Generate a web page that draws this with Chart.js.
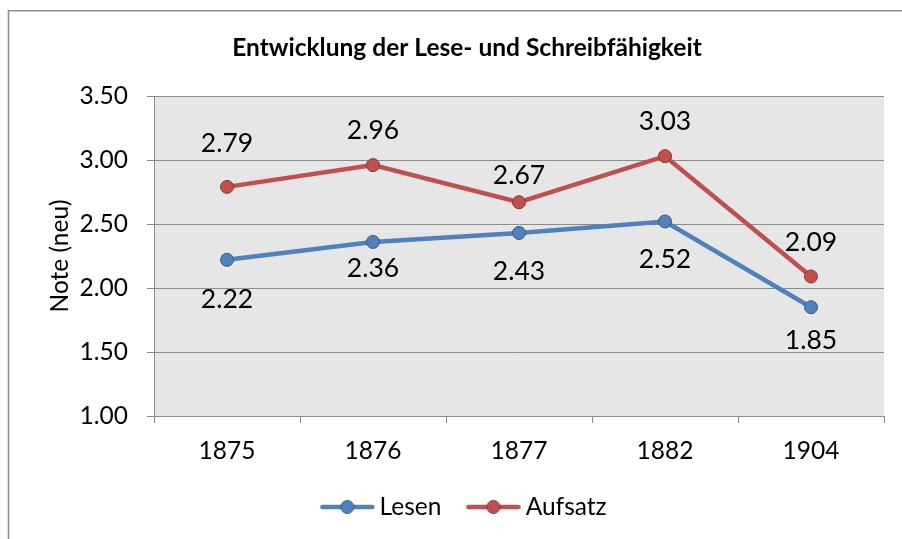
<!DOCTYPE html>
<html><head><meta charset="utf-8">
<script src="https://cdn.jsdelivr.net/npm/chart.js@4"></script>
<style>html,body{margin:0;padding:0;background:#fff}</style>
</head><body>
<canvas id="c" width="902" height="539" style="display:block;width:902px;height:539px"></canvas>
<script>
const categories = ['1875', '1876', '1877', '1882', '1904'];
const lesen = [2.22, 2.36, 2.43, 2.52, 1.85];
const aufsatz = [2.79, 2.96, 2.67, 3.03, 2.09];
const yMin = 1.0, yMax = 3.5, yStep = 0.5;
const chartTitle = 'Entwicklung der Lese- und Schreibfähigkeit';
const yTitle = 'Note (neu)';
const seriesNames = ['Lesen', 'Aufsatz'];
// label offsets (px, relative to point) as placed in the reference
const lesenLabelDy = [40, 27, 38.6, 37.8, 33.7];
const aufsatzLabelDy = [-43, -34.5, -27, -34.5, -34];

const BLUE = '#4f81bd', BLUE_D = '#385d8a';
const RED = '#c0504d', RED_D = '#8c3836';
const GRID = '#8c8c8c';
const FONT = 'Lato';
const FS = 24.5;

function legendIcon(color, border) {
  const c = document.createElement('canvas');
  c.width = 56; c.height = 16;
  const g = c.getContext('2d');
  g.strokeStyle = color; g.lineWidth = 4.5; g.lineCap = 'round';
  g.beginPath(); g.moveTo(3, 8); g.lineTo(53, 8); g.stroke();
  g.beginPath(); g.arc(28, 8, 6.5, 0, Math.PI * 2);
  g.fillStyle = color; g.fill();
  g.lineWidth = 1; g.strokeStyle = border; g.stroke();
  return c;
}
const icons = [legendIcon(BLUE, BLUE_D), legendIcon(RED, RED_D)];

const framePlugin = {
  id: 'frame',
  beforeDraw(chart) {
    const ctx = chart.ctx, a = chart.chartArea;
    ctx.save();
    ctx.fillStyle = '#fff';
    ctx.fillRect(0, 0, chart.width, chart.height);
    ctx.strokeStyle = '#8e8e8e';
    ctx.lineWidth = 1.6;
    ctx.beginPath();
    ctx.moveTo(8.5, chart.height + 5);
    ctx.lineTo(8.5, 10.8);
    ctx.lineTo(chart.width + 5, 10.8);
    ctx.stroke();
    ctx.fillStyle = '#e6e6e6';
    ctx.fillRect(a.left, a.top, a.right - a.left, a.bottom - a.top);
    ctx.restore();
  }
};

const labelPlugin = {
  id: 'pointLabels',
  afterDatasetsDraw(chart) {
    const ctx = chart.ctx;
    const offs = [lesenLabelDy, aufsatzLabelDy];
    ctx.save();
    ctx.font = '26.5px ' + FONT;
    ctx.fillStyle = '#000';
    ctx.textAlign = 'center';
    ctx.textBaseline = 'middle';
    chart.data.datasets.forEach((ds, di) => {
      const meta = chart.getDatasetMeta(di);
      meta.data.forEach((pt, i) => {
        ctx.fillText(ds.data[i].toFixed(2), pt.x, pt.y + offs[di][i]);
      });
    });
    ctx.restore();
  }
};

const PAD_LEFT = 50, PAD_RIGHT = 18;

new Chart(document.getElementById('c'), {
  type: 'line',
  data: {
    labels: categories,
    datasets: [
      { label: seriesNames[0], data: lesen, borderColor: BLUE, backgroundColor: BLUE,
        pointBackgroundColor: BLUE, pointBorderColor: BLUE_D, pointBorderWidth: 1,
        pointRadius: 6.5, borderWidth: 4.5, tension: 0, fill: false },
      { label: seriesNames[1], data: aufsatz, borderColor: RED, backgroundColor: RED,
        pointBackgroundColor: RED, pointBorderColor: RED_D, pointBorderWidth: 1,
        pointRadius: 6.5, borderWidth: 4.5, tension: 0, fill: false }
    ]
  },
  options: {
    responsive: false,
    animation: false,
    layout: { padding: { left: PAD_LEFT, right: PAD_RIGHT, top: 0, bottom: 9.75 } },
    plugins: {
      title: {
        display: true, text: chartTitle, color: '#000',
        font: { family: FONT, size: FS, weight: 'bold', lineHeight: 1.2 },
        padding: { top: 33.3, bottom: 33.3 }
      },
      legend: {
        position: 'bottom',
        labels: {
          color: '#000', font: { family: FONT, size: FS },
          usePointStyle: true, pointStyleWidth: 40, padding: 32,
          generateLabels(chart) {
            const items = Chart.defaults.plugins.legend.labels.generateLabels(chart);
            items.forEach((it, i) => { it.pointStyle = icons[i]; });
            return items;
          }
        }
      },
      tooltip: { enabled: false }
    },
    scales: {
      x: {
        type: 'category',
        offset: true,
        grid: { display: true, drawOnChartArea: false, drawTicks: true, tickLength: 7, offset: true, color: GRID, lineWidth: 1 },
        border: { display: true, color: GRID, width: 1 },
        ticks: { color: '#000', font: { family: FONT, size: FS }, padding: 13.8, autoSkip: false, maxRotation: 0 },
        afterFit(s) { s.height = 46.75; }
      },
      y: {
        type: 'linear',
        min: yMin, max: yMax,
        grid: { color: GRID, lineWidth: 1, drawTicks: true, tickLength: 7 },
        border: { display: true, color: GRID, width: 1 },
        ticks: { stepSize: yStep, color: '#000', font: { family: FONT, size: FS }, padding: 19,
                 callback: v => Number(v).toFixed(2) },
        title: { display: true, text: yTitle, color: '#000',
                 font: { family: FONT, size: FS, lineHeight: 1 }, padding: { top: -2.25, bottom: 0 } },
        afterFit(s) { s.width = 154 - PAD_LEFT; }
      }
    }
  },
  plugins: [framePlugin, labelPlugin]
});
</script>
</body></html>
